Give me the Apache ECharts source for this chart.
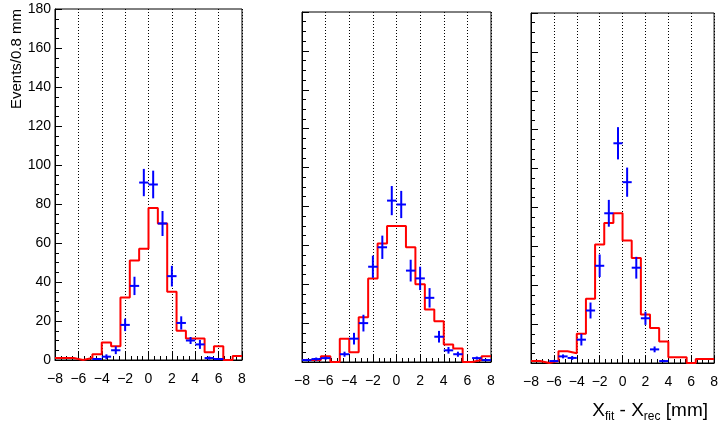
<!DOCTYPE html>
<html>
<head>
<meta charset="utf-8">
<script src="https://cdn.jsdelivr.net/npm/echarts@6/dist/echarts.min.js"></script>
<style>
  html, body { margin: 0; padding: 0; background: #fff; }
  #chart { width: 721px; height: 428px; }
</style>
</head>
<body>
<div id="chart"></div>
<script>
// bins of 0.8 mm from -8 to 8
const binCenters = [-7.6, -6.8, -6.0, -5.2, -4.4, -3.6, -2.8, -2.0, -1.2, -0.4,
  0.4, 1.2, 2.0, 2.8, 3.6, 4.4, 5.2, 6.0, 6.8, 7.6];
const binHalf = 0.4;

// panel 1
const histA = [1, 1, 0, 1, 3, 9, 7, 32, 51, 57, 78, 70, 35, 15, 11, 11, 4, 7, 0, 2];
const dataA = [null, null, null, null, 0.5, 1.7, 5, 18, 38, 91, 90, 70, 43, 19, 10, 8, 1, 0.5, null, null];
const errA = [0, 0, 0, 0, 0.5, 1.2, 2, 3.2, 4.7, 7, 7.1, 6.4, 5.3, 3.4, 1.8, 2.3, 0.8, 0.5, 0, 0];

// panel 2
const histB = [1, 1, 3, 0, 12, 5, 23, 43, 61, 70, 70, 59, 40, 27, 21, 9, 7, 0, 1, 3];
const dataB = [1, 1.5, 2, null, 4, 12, 20, 49, 59, 83, 81, 47, 43, 33, 13, 6, 4, null, 2, 1];
const errB = [0.6, 0.8, 0.8, 0, 1.3, 3, 4.3, 5.7, 6, 7.5, 7, 5.6, 6, 5, 3, 1.7, 1.3, 0, 0.8, 0.6];

// panel 3
const histC = [1, 0, 1, 6, 5, 15, 33, 61, 72, 77, 63, 54, 25, 18, 11, 3, 3, 0, 2, 2];
const dataC = [null, null, 1, 3.4, 2.6, 12, 27, 50, 77, 113, 93, 49, 23, 7, 1, null, null, null, null, null];
const errC = [0, 0, 0.6, 1, 1, 3, 4.1, 5.8, 6.9, 8.3, 7.5, 5.6, 3.4, 1.5, 0.6, 0, 0, 0, 0, 0];

const FONT = "Liberation Sans, Arial, Helvetica, sans-serif";

var myChart = echarts.init(document.getElementById("chart"));

function stepData(hist) {
  var pts = binCenters.map(function (c, i) {
    return [c - binHalf, hist[i]];
  });
  pts.push([binCenters[binCenters.length - 1] + binHalf, hist[hist.length - 1]]);
  return pts;
}

function pointData(vals, errs) {
  var out = [];
  for (var i = 0; i < binCenters.length; i++) {
    if (vals[i] == null) continue;
    out.push([binCenters[i], vals[i], errs[i]]);
  }
  return out;
}

function renderCross(params, api) {
  var x = api.value(0), y = api.value(1), e = api.value(2);
  var top = api.coord([x, y + e]);
  var bot = api.coord([x, y - e]);
  var l = api.coord([x - binHalf, y]);
  var r = api.coord([x + binHalf, y]);
  var st = { stroke: "#0000ff", lineWidth: 2 };
  return {
    type: "group",
    children: [
      { type: "line", shape: { x1: top[0], y1: top[1], x2: bot[0], y2: bot[1] }, style: st },
      { type: "line", shape: { x1: l[0], y1: l[1], x2: r[0], y2: r[1] }, style: st },
    ],
  };
}

function xAxisFor(idx) {
  return {
    type: "value",
    gridIndex: idx,
    min: -8,
    max: 8,
    interval: 2,
    axisLine: { show: true, onZero: false, lineStyle: { color: "#000", width: 1 } },
    axisTick: { show: true, inside: true, length: 8, lineStyle: { color: "#000" } },
    minorTick: { show: true, splitNumber: 4, length: 4, lineStyle: { color: "#000" } },
    splitLine: { show: true, lineStyle: { type: [1, 2], color: "#000", width: 1 } },
    axisLabel: {
      fontFamily: FONT,
      fontSize: 14,
      color: "#000",
      margin: 12,
      formatter: function (v) {
        return v < 0 ? "\u2212" + -v : String(v);
      },
    },
  };
}

function yAxisFor(idx, labels) {
  return {
    type: "value",
    gridIndex: idx,
    min: 0,
    max: 180,
    interval: 20,
    axisLine: { show: true, onZero: false, lineStyle: { color: "#000", width: 1 } },
    axisTick: { show: true, inside: true, length: 7, lineStyle: { color: "#000" } },
    minorTick: { show: true, splitNumber: 4, length: 4, lineStyle: { color: "#000" } },
    splitLine: { show: false },
    axisLabel: {
      show: labels,
      fontFamily: FONT,
      fontSize: 14,
      color: "#000",
      margin: 4,
    },
  };
}

function histSeries(idx, hist) {
  return {
    type: "line",
    xAxisIndex: idx,
    yAxisIndex: idx,
    step: "end",
    showSymbol: false,
    symbol: "none",
    data: stepData(hist),
    lineStyle: { color: "#ff0000", width: 2 },
    silent: true,
    z: 2,
  };
}

function pointSeries(idx, vals, errs) {
  return {
    type: "custom",
    xAxisIndex: idx,
    yAxisIndex: idx,
    clip: true,
    renderItem: renderCross,
    data: pointData(vals, errs),
    silent: true,
    z: 3,
  };
}

var gridStyle = { show: true, borderColor: "#000", borderWidth: 1, backgroundColor: "transparent" };

var option = {
  animation: false,
  backgroundColor: "#fff",
  title: {
    text: "{a|X}{s|fit}{a| - X}{s|rec}{a| [mm]}",
    right: 8,
    top: 394,
    textStyle: {
      fontWeight: "normal",
      rich: {
        a: { fontFamily: FONT, fontSize: 19, fontWeight: "normal", color: "#000", lineHeight: 24 },
        s: { fontFamily: FONT, fontSize: 12, fontWeight: "normal", color: "#000", lineHeight: 10, verticalAlign: "bottom" },
      },
    },
  },
  graphic: [
    {
      type: "text",
      x: 17,
      y: 9,
      rotation: Math.PI / 2,
      style: {
        text: "Events/0.8 mm",
        fontFamily: FONT,
        fontSize: 15,
        fill: "#000",
        align: "right",
        verticalAlign: "middle",
      },
    },
  ],
  grid: [
    Object.assign({ left: 55, top: 9, width: 187, height: 351 }, gridStyle),
    Object.assign({ left: 302, top: 12, width: 189, height: 350 }, gridStyle),
    Object.assign({ left: 531, top: 13, width: 186, height: 350 }, gridStyle),
  ],
  xAxis: [xAxisFor(0), xAxisFor(1), xAxisFor(2)],
  yAxis: [yAxisFor(0, true), yAxisFor(1, false), yAxisFor(2, false)],
  series: [
    histSeries(0, histA),
    pointSeries(0, dataA, errA),
    histSeries(1, histB),
    pointSeries(1, dataB, errB),
    histSeries(2, histC),
    pointSeries(2, dataC, errC),
  ],
};

myChart.setOption(option);
</script>
</body>
</html>
